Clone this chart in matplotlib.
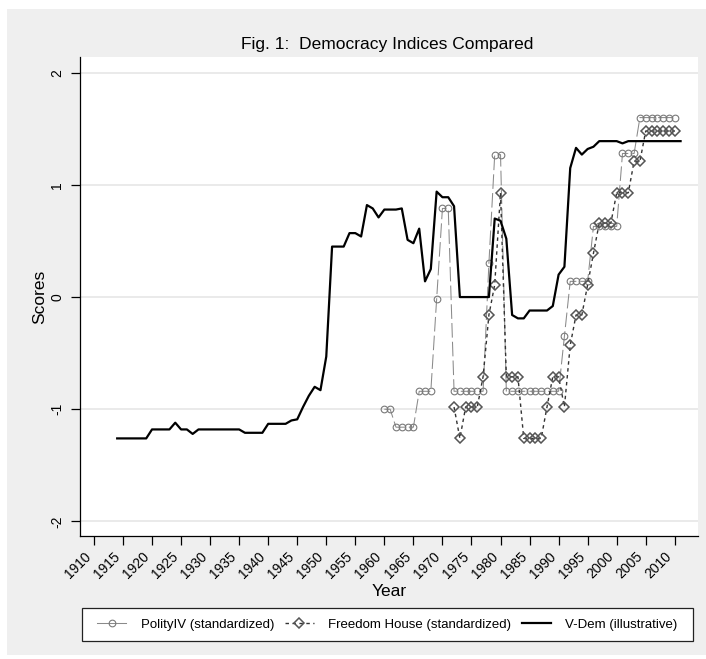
import matplotlib
matplotlib.use("Agg")
import matplotlib.pyplot as plt
from matplotlib.lines import Line2D
from matplotlib.patches import Rectangle

plt.rcParams['font.family'] = ['Liberation Sans', 'DejaVu Sans']

# standardized index scores by year
polity_years = list(range(1960, 2011))
polity = [
    -1.00, -1.00, -1.16, -1.16, -1.16, -1.16, -0.84, -0.84, -0.84, -0.02,  # 1960s
    0.79, 0.79, -0.84, -0.84, -0.84, -0.84, -0.84, -0.84, 0.30, 1.27,      # 1970s
    1.27, -0.84, -0.84, -0.84, -0.84, -0.84, -0.84, -0.84, -0.84, -0.84,   # 1980s
    -0.84, -0.35, 0.14, 0.14, 0.14, 0.14, 0.63, 0.63, 0.63, 0.63,         # 1990s
    0.63, 1.28, 1.28, 1.28, 1.60, 1.60, 1.60, 1.60, 1.60, 1.60, 1.60,     # 2000-2010
]

fh_years = list(range(1972, 2011))
freedom_house = [
    -0.98, -1.26, -0.98, -0.98, -0.98, -0.71, -0.16, 0.11,                # 1972-79
    0.93, -0.71, -0.71, -0.71, -1.26, -1.26, -1.26, -1.26, -0.98, -0.71,  # 1980s
    -0.71, -0.98, -0.43, -0.16, -0.16, 0.11, 0.39, 0.66, 0.66, 0.66,      # 1990s
    0.93, 0.93, 0.93, 1.21, 1.21, 1.48, 1.48, 1.48, 1.48, 1.48, 1.48,     # 2000-2010
]

vdem_years = list(range(1914, 2012))
vdem = [
    -1.26, -1.26, -1.26, -1.26, -1.26, -1.26,                              # 1914-19
    -1.18, -1.18, -1.18, -1.18, -1.12, -1.18, -1.18, -1.22, -1.18, -1.18,  # 1920s
    -1.18, -1.18, -1.18, -1.18, -1.18, -1.18, -1.21, -1.21, -1.21, -1.21,  # 1930s
    -1.13, -1.13, -1.13, -1.13, -1.10, -1.09, -0.98, -0.88, -0.80, -0.83,  # 1940s
    -0.53, 0.45, 0.45, 0.45, 0.57, 0.57, 0.54, 0.82, 0.79, 0.71,           # 1950s
    0.78, 0.78, 0.78, 0.79, 0.51, 0.48, 0.61, 0.14, 0.25, 0.94,            # 1960s
    0.89, 0.89, 0.81, 0.00, 0.00, 0.00, 0.00, 0.00, 0.00, 0.70,            # 1970s
    0.68, 0.52, -0.16, -0.19, -0.19, -0.12, -0.12, -0.12, -0.12, -0.08,    # 1980s
    0.20, 0.27, 1.15, 1.33, 1.27, 1.32, 1.34, 1.39, 1.39, 1.39,            # 1990s
    1.39, 1.37, 1.39, 1.39, 1.39, 1.39, 1.39, 1.39, 1.39, 1.39, 1.39, 1.39,  # 2000-2011
]

year_ticks = list(range(1910, 2011, 5))
score_ticks = [-2, -1, 0, 1, 2]

W, H = 706, 659
fig = plt.figure(figsize=(W / 100, H / 100), dpi=100)
fig.patch.set_facecolor('white')

# light gray graph region behind everything
fig.patches.append(Rectangle((7 / W, 4 / H), 1 - 7 / W, (650 - 4) / H,
                             transform=fig.transFigure, facecolor='#efefef',
                             edgecolor='none', zorder=-10))

ax = fig.add_axes([80 / W, (H - 536) / H, 618 / W, 479 / H])
ax.set_facecolor('white')

polity_style = dict(color='#8a8a8a', lw=0.75, marker='o', ms=4.8, mfc='none',
                    mec='#7a7a7a', mew=0.8)
fh_style = dict(color='#333333', lw=1.0, dashes=(2.5, 2.5), marker='D', ms=4.6,
                mfc='none', mec='#555555', mew=1.1)
vdem_style = dict(color='black', lw=1.6)

ax.plot(polity_years, polity, dashes=(14, 4), zorder=3, **polity_style)
ax.plot(fh_years, freedom_house, zorder=4, **fh_style)
ax.plot(vdem_years, vdem, zorder=5, **vdem_style)

ax.set_xlim(1907.6, 2014.0)
ax.set_ylim(-2.13, 2.14)
ax.set_xticks(year_ticks)
ax.set_xticklabels([str(y) for y in year_ticks], rotation=45, ha='right', fontsize=10)
ax.set_yticks(score_ticks)
ax.set_yticklabels([str(s) for s in score_ticks], rotation=90, va='center', fontsize=10)
ax.tick_params(axis='both', direction='out', length=6.2, width=0.9, color='black')
ax.tick_params(axis='x', pad=3.5)
ax.tick_params(axis='y', pad=5)

ax.grid(axis='y', color='#e6e6e6', lw=1.2)
ax.set_axisbelow(True)
for side in ['top', 'right']:
    ax.spines[side].set_visible(False)
for side in ['left', 'bottom']:
    ax.spines[side].set_color('black')
    ax.spines[side].set_linewidth(0.9)

fig.text(387.5 / W, (H - 44) / H, 'Fig. 1:  Democracy Indices Compared',
         ha='center', va='center', fontsize=12.5)
fig.text(40 / W, (H - 297) / H, 'Scores', rotation=90,
         ha='center', va='center', fontsize=12.5)
fig.text(389 / W, (H - 591) / H, 'Year', ha='center', va='center', fontsize=12.5)

# legend box under the plot
fig.patches.append(Rectangle((82 / W, (H - 641) / H), (693 - 82) / W, 33 / H,
                             transform=fig.transFigure, facecolor='white',
                             edgecolor='#222222', lw=0.9, zorder=1))
handles = [Line2D([], [], **polity_style),
           Line2D([], [], **fh_style),
           Line2D([], [], **vdem_style)]
labels = ['PolityIV (standardized)', 'Freedom House (standardized)', 'V-Dem (illustrative)']
fig.legend(handles, labels, loc='center', bbox_to_anchor=(387.5 / W, (H - 624.5) / H),
           ncol=3, frameon=False, fontsize=9.5, handlelength=2.2,
           handletextpad=1.1, columnspacing=0.8, numpoints=1)

fig.savefig('out.png', dpi=100, facecolor=fig.get_facecolor())
